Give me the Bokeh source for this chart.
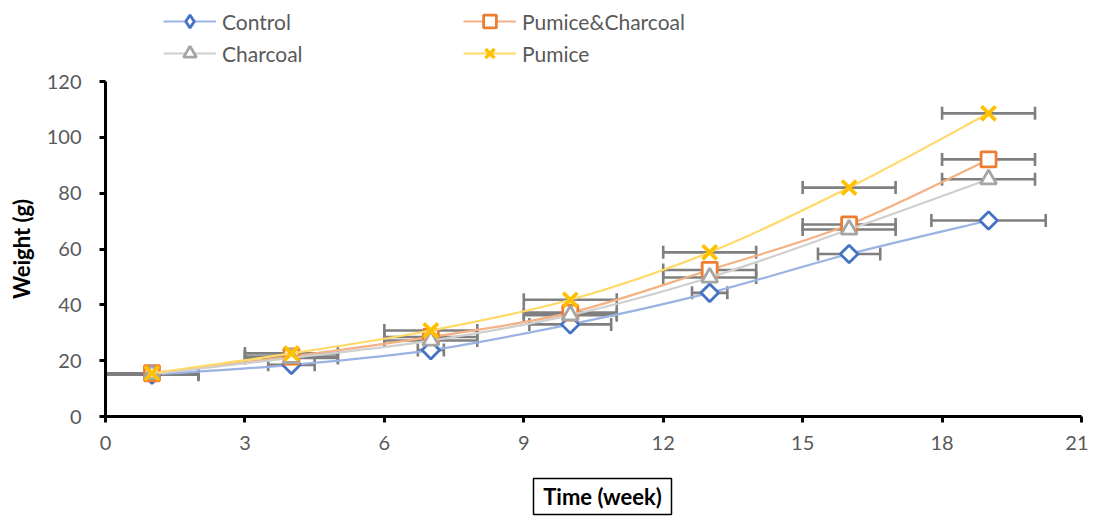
import math
from bokeh.plotting import figure
from bokeh.layouts import column
from bokeh.models import (Range1d, FixedTicker, Whisker, TeeHead, ColumnDataSource,
                          Legend, LegendItem, Label)
from bokeh.embed import file_html
from bokeh.resources import INLINE

weeks = [1, 4, 7, 10, 13, 16, 19]
series_names = ["Control", "Pumice&Charcoal", "Charcoal", "Pumice"]
control = [15, 18.5, 23.8, 33, 44.3, 58.2, 70.2]
pumice_charcoal = [15.5, 21.5, 28.5, 37.2, 52.5, 68.8, 92.1]
charcoal = [15.2, 21.0, 27.2, 36.3, 49.8, 67.0, 85.0]
pumice = [15.5, 22.6, 30.8, 41.8, 58.8, 82.0, 108.6]
control_err = [1.0, 0.5, 0.28, 0.88, 0.38, 0.67, 1.23]
pumice_charcoal_err = [1, 1, 1, 1, 1, 1, 1]
charcoal_err = [1, 1, 1, 1, 1, 1, 1]
pumice_err = [1, 1, 1, 1, 1, 1, 1]
x_ticks = [0, 3, 6, 9, 12, 15, 18, 21]
y_ticks = [0, 20, 40, 60, 80, 100, 120]
x_title = "Time (week)"
y_title = "Weight (g)"

FONT = "Lato"
W = 1088
LEFT, RIGHT = 105, 7          # frame borders (pixels)
FRAME_L, FRAME_R = LEFT, W - RIGHT

# ---------------- main plot ----------------
p = figure(width=W, height=392, output_backend="svg", toolbar_location=None,
           x_range=Range1d(0, 21), y_range=Range1d(0, 120),
           min_border_left=LEFT, min_border_right=RIGHT, min_border_top=12, min_border_bottom=45)
p.grid.visible = False
p.outline_line_color = None

for ax in (p.xaxis[0], p.yaxis[0]):
    ax.axis_line_color = "black"
    ax.axis_line_width = 3
    ax.major_tick_line_color = "black"
    ax.major_tick_line_width = 3
    ax.major_tick_out = 6
    ax.major_tick_in = 0
    ax.minor_tick_out = 0
    ax.minor_tick_in = 0
    ax.major_label_text_font = FONT
    ax.major_label_text_font_size = "20px"
    ax.major_label_text_color = "#595959"
p.xaxis.ticker = FixedTicker(ticks=x_ticks)
p.yaxis.ticker = FixedTicker(ticks=y_ticks)
p.xaxis.major_label_standoff = 13
p.yaxis.major_label_standoff = 18
p.yaxis.axis_label = y_title
p.yaxis.axis_label_text_font = FONT
p.yaxis.axis_label_text_font_style = "bold"
p.yaxis.axis_label_text_font_size = "22px"
p.yaxis.axis_label_text_color = "black"
p.yaxis.axis_label_standoff = 9


def smooth_controls(xs, ys):
    n = len(xs)
    x0, y0, x1, y1, cx0, cy0, cx1, cy1 = [], [], [], [], [], [], [], []
    for i in range(n - 1):
        pm = i - 1 if i > 0 else i
        pp = i + 2 if i + 2 < n else i + 1
        x0.append(xs[i]); y0.append(ys[i])
        x1.append(xs[i + 1]); y1.append(ys[i + 1])
        cx0.append(xs[i] + (xs[i + 1] - xs[pm]) / 6)
        cy0.append(ys[i] + (ys[i + 1] - ys[pm]) / 6)
        cx1.append(xs[i + 1] - (xs[pp] - xs[i]) / 6)
        cy1.append(ys[i + 1] - (ys[pp] - ys[i]) / 6)
    return dict(x0=x0, y0=y0, x1=x1, y1=y1, cx0=cx0, cy0=cy0, cx1=cx1, cy1=cy1)


# (values, errors, line colour, marker colour, plot marker, plot size, angle, legend marker)
styles = [
    (control, control_err, "#9AB3E2", "#4472C4", "square", 12.5, math.pi / 4, "diamond"),
    (pumice_charcoal, pumice_charcoal_err, "#F4B183", "#ED7D31", "square", 15, 0, "square"),
    (charcoal, charcoal_err, "#CFCFCF", "#A5A5A5", "triangle", 16, 0, "triangle"),
    (pumice, pumice_err, "#FFD966", "#FFC000", "x", 20, 0, "x"),
]

# ---------------- legend strip ----------------
lf = figure(width=W, height=69, output_backend="svg", toolbar_location=None,
            x_range=Range1d(FRAME_L, FRAME_R), y_range=Range1d(0, 69), min_border=0,
            min_border_left=LEFT, min_border_right=RIGHT,
            x_axis_location=None, y_axis_location=None)
lf.grid.visible = False
lf.outline_line_color = None

items = []
for name, (ys, errs, lc, mc, mk, sz, ang, lmk) in zip(series_names, styles):
    p.bezier(source=ColumnDataSource(smooth_controls(weeks, ys)), x0="x0", y0="y0", x1="x1", y1="y1",
             cx0="cx0", cy0="cy0", cx1="cx1", cy1="cy1", line_color=lc, line_width=2.2)
    src = ColumnDataSource(dict(x=weeks, y=ys, lo=[a - e for a, e in zip(weeks, errs)],
                                hi=[a + e for a, e in zip(weeks, errs)]))
    w = Whisker(source=src, base="y", lower="lo", upper="hi", dimension="width",
                line_color="#7F7F7F", line_width=2.6,
                lower_head=TeeHead(size=13, line_color="#7F7F7F", line_width=2.6),
                upper_head=TeeHead(size=13, line_color="#7F7F7F", line_width=2.6))
    p.add_layout(w)
    if mk == "x":
        p.scatter(x="x", y="y", source=src, marker="x", size=sz, line_color=mc, line_width=3.8)
    else:
        p.scatter(x="x", y="y", source=src, marker=mk, size=sz, angle=ang, line_color=mc,
                  line_width=2.8, fill_color="white")
    # legend sample renderers (kept outside the visible strip)
    l_line = lf.line(x=[-30, -20], y=[-30, -30], line_color=lc, line_width=2.2)
    if lmk == "x":
        l_mark = lf.scatter(x=[-30], y=[-30], marker="x", size=12, line_color=mc, line_width=3.4)
    else:
        l_mark = lf.scatter(x=[-30], y=[-30], marker=lmk, size=12, line_color=mc, line_width=2.8,
                            fill_color="white")
    items.append(LegendItem(label=name, renderers=[l_line, l_mark]))

legend = Legend(items=items, location=(58, 0), orientation="horizontal", ncols=2,
                label_text_font=FONT, label_text_font_size="21px", label_text_color="#595959",
                glyph_width=53, glyph_height=32, label_height=32, label_width=241,
                label_standoff=6, spacing=0, margin=0, padding=0,
                border_line_color=None, background_fill_alpha=0)
lf.add_layout(legend, "center")

# ---------------- x title strip ----------------
bf = figure(width=W, height=55, output_backend="svg", toolbar_location=None,
            x_range=Range1d(FRAME_L, FRAME_R), y_range=Range1d(0, 55), min_border=0,
            min_border_left=LEFT, min_border_right=RIGHT,
            x_axis_location=None, y_axis_location=None)
bf.grid.visible = False
bf.outline_line_color = None
bf.rect(x=[602], y=[20], width=138, height=36, fill_color=None, line_color="black", line_width=1.5)
bf.add_layout(Label(x=602, y=20, text=x_title, text_font=FONT, text_font_style="bold",
                    text_font_size="22px", text_color="black", text_align="center",
                    text_baseline="middle"))

layout = column(lf, p, bf, spacing=0)
open("out.html", "w").write(file_html(layout, INLINE))
